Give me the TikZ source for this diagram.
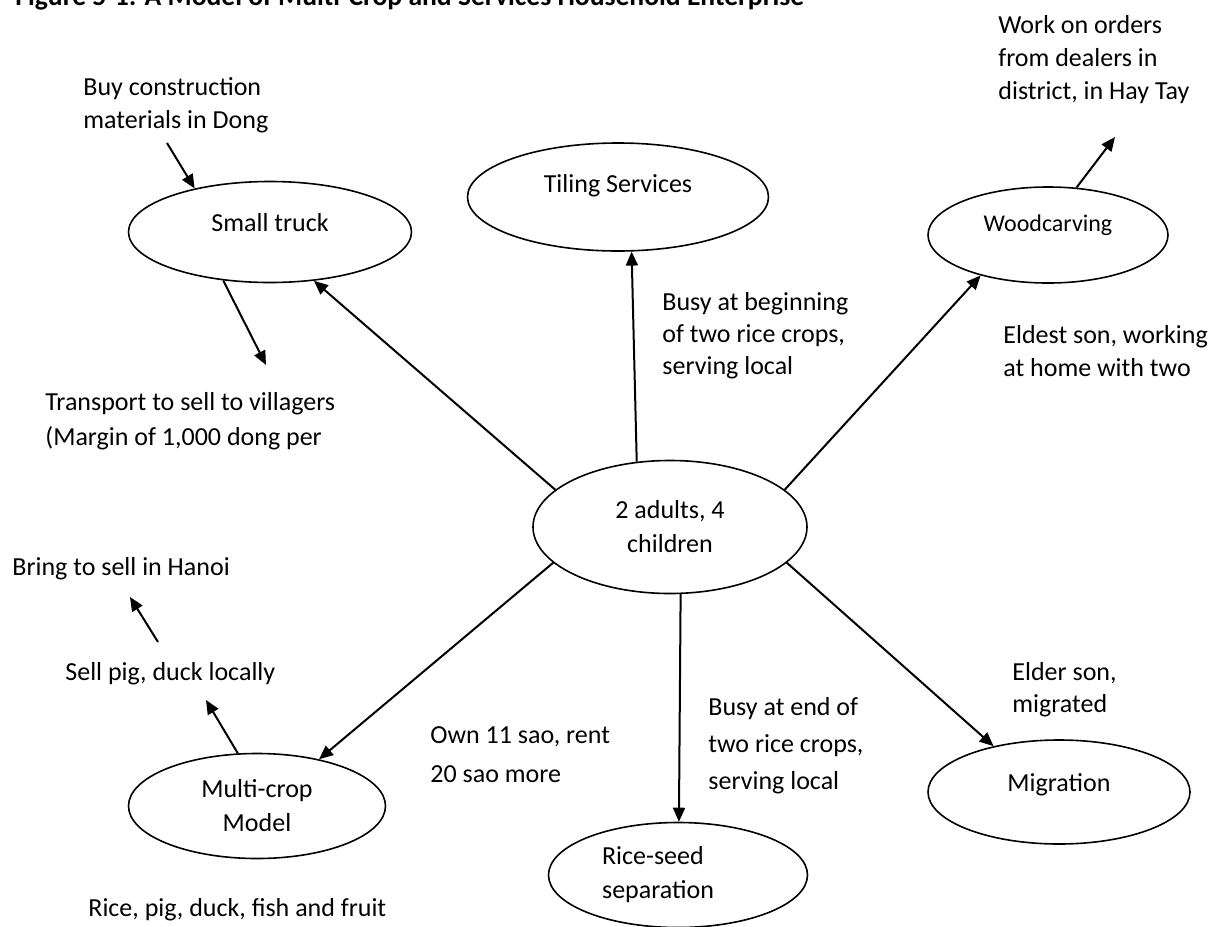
\documentclass[tikz,border=0pt]{standalone}
\usepackage{fontspec}
\setmainfont{Carlito}
\usetikzlibrary{arrows.meta, shapes.geometric}

\begin{document}
\begin{tikzpicture}[x=0.5pt, y=-0.5pt,
  bubble/.style={ellipse, draw, line width=0.8pt, align=center, font=\fontsize{13}{17}\selectfont},
  note/.style={anchor=north west, inner sep=0pt, align=left, font=\fontsize{13}{16.5}\selectfont},
  flow/.style={line width=1pt, -{Triangle[length=7pt,width=6pt]}}]
\useasboundingbox (0,0) rectangle (1222,927);

% Title, cut by the page
\node[anchor=base west, inner sep=0pt, font=\bfseries\fontsize{13.8}{16}\selectfont] (title) at (15,5) {Figure 5-1: A Model of Multi-Crop and Services Household Enterprise};

% Household and activities
\node[bubble, minimum width=137pt, minimum height=66.5pt] (family) at (670,527) {2 adults, 4\\children};
\node[bubble, minimum width=141.5pt, minimum height=50.5pt, text height=9pt, text depth=10pt] (truck) at (270,232) {Small truck};
\node[bubble, minimum width=150.5pt, minimum height=54pt, text height=9pt, text depth=14pt] (tiling) at (618,197) {Tiling Services};
\node[bubble, minimum width=120pt, minimum height=48pt, text height=9pt, text depth=13pt, font=\fontsize{12}{15}\selectfont] (wood) at (1048,235) {Woodcarving};
\node[bubble, minimum width=131pt, minimum height=52pt, text height=9pt, text depth=10pt] (migration) at (1059,792) {Migration};
\node[bubble, minimum width=129.5pt, minimum height=52.5pt, align=left] (rice) at (678,875) {Rice-seed\\separation\hspace*{20pt}};
\node[bubble, minimum width=128.5pt, minimum height=52.5pt] (multi) at (257,806) {Multi-crop\\Model};

% Side notes
\node[note] (work) at (998,15) {Work on orders\\from dealers in\\district, in Hay Tay};
\node[note] (buy) at (83,77) {Buy construction\\materials in Dong};
\node[note, font=\fontsize{13}{16}\selectfont] (busybegin) at (662,292) {Busy at beginning\\of two rice crops,\\serving local};
\node[note] (eldest) at (1003,325) {Eldest son, working\\at home with two};
\node[note, font=\fontsize{13}{17.5}\selectfont] (transport) at (45,392) {Transport to sell to villagers\\(Margin of 1,000 dong per};
\node[note] (bring) at (12,557) {Bring to sell in Hanoi};
\node[note] (sell) at (65,662) {Sell pig, duck locally};
\node[note, font=\fontsize{13}{16}\selectfont] (elder) at (1012,662) {Elder son,\\migrated};
\node[note, font=\fontsize{13}{18.5}\selectfont] (busyend) at (708,697) {Busy at end of\\two rice crops,\\serving local};
\node[note, font=\fontsize{13}{19.5}\selectfont] (own) at (430,726) {Own 11 sao, rent\\20 sao more};
\node[note] (produce) at (88,898) {Rice, pig, duck, fish and fruit};

% Free arrow ends
\coordinate (buyfoot) at (167,143);
\coordinate (transporthead) at (266,365);
\coordinate (workhead) at (1115,137);
\coordinate (sellhead) at (206,700);
\coordinate (sellfoot) at (158,642);
\coordinate (bringhead) at (130,597);

% Arrows from the household
\draw[flow] (family.162) -- (truck.-48);
\draw[flow] (family.117) -- (tiling.-76);
\draw[flow] (family.18) -- (wood.-149);
\draw[flow] (family.-17) -- (migration.145);
\draw[flow] (family.-81) -- (rice.89);
\draw[flow] (family.-163) -- (multi.37);

% Arrows to markets
\draw[flow] (buyfoot) -- (truck.150);
\draw[flow] (truck.226) -- (transporthead);
\draw[flow] (wood.59) -- (workhead);
\draw[flow] (multi.110) -- (sellhead);
\draw[flow] (sellfoot) -- (bringhead);
\end{tikzpicture}
\end{document}
